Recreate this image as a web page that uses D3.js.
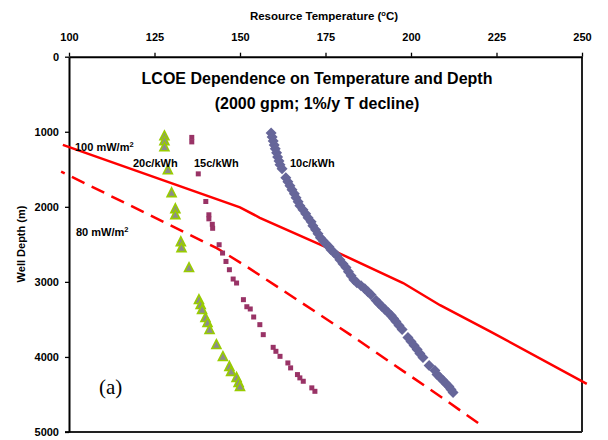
<!DOCTYPE html>
<html><head><meta charset="utf-8">
<script src="https://cdn.jsdelivr.net/npm/d3@7"></script>
<style>
html,body{margin:0;padding:0;background:#fff;}
svg text{font-family:"Liberation Sans",Arial,sans-serif;}
</style></head>
<body>
<svg id="c" width="608" height="440"></svg>
<script>
// ---- data ----
const tempTicks = [100,125,150,175,200,225,250];
const depthTicks = [0,1000,2000,3000,4000,5000];

// 10 c/kWh (diamonds): temperature (C), depth (m)
const c10Temp = [159.1,159.4,159.7,160.0,160.3,160.7,161.0,161.4,161.7,162.3,163.4,164.0,164.6,165.2,165.9,166.4,167.0,167.5,168.4,169.2,169.9,170.8,171.3,172.1,172.8,173.5,174.3,175.1,176.0,176.6,177.5,178.4,179.2,180.1,181.0,181.7,182.5,183.3,184.2,185.4,186.5,187.4,188.3,189.8,190.6,191.5,192.4,193.3,194.2,194.9,195.6,196.5,197.4,199.1,200.0,200.9,201.8,202.6,203.5,205.3,207.0,207.6,208.5,209.4,210.2,211.1,211.7,212.3];
const c10Depth = [1015,1069,1122,1175,1228,1281,1335,1388,1441,1494,1614,1667,1720,1773,1826,1880,1933,1986,2039,2092,2145,2199,2252,2305,2358,2411,2451,2491,2531,2571,2611,2651,2704,2757,2810,2864,2917,2970,3010,3050,3090,3130,3170,3249,3289,3329,3369,3409,3449,3489,3529,3582,3635,3742,3795,3848,3901,3954,4008,4114,4181,4234,4274,4314,4354,4394,4434,4474];

// 15 c/kWh (squares)
const c15Temp = [135.9,135.9,137.8,140.0,140.9,140.9,141.9,142.0,143.9,144.9,145.9,146.9,148.0,149.0,151.0,152.0,153.0,154.0,155.8,156.8,159.7,160.5,161.7,164.0,164.8,166.8,167.5,168.5,171.0,171.9];
const c15Depth = [1075,1135,1561,1929,2106,2160,2233,2286,2505,2616,2728,2838,2962,3015,3237,3331,3361,3468,3570,3703,3872,3925,3992,4080,4146,4235,4279,4324,4412,4458];

// 20 c/kWh (triangles)
const c20Temp = [127.9,127.9,127.9,128.9,130.0,131.1,131.1,132.7,132.9,135.1,138.0,138.5,138.9,139.9,140.5,141.1,143.1,145.0,146.9,147.4,149.0,149.6,150.0];
const c20Depth = [1055,1122,1202,1508,1814,2027,2107,2466,2546,2812,3238,3305,3371,3478,3544,3637,3837,3996,4129,4195,4275,4342,4395];

// 100 mW/m2 (solid) and 80 mW/m2 (dashed) temperature-depth curves
const hf100Temp = [98.2,150.0,155.8,174.3,197.7,208.5,223.1,251.4];
const hf100Depth = [1174,2007,2146,2519,3015,3311,3659,4359];
const hf80Temp = [97.7,143.2,151.9,182.2,209.9,220.2];
const hf80Depth = [1530,2550,2795,3703,4568,4900];

// ---- chart ----
const svg = d3.select("#c");
const x = d3.scaleLinear().domain([100,250]).range([69,582]);
const y = d3.scaleLinear().domain([0,5000]).range([56.7,432]);
const zip = (a,b) => a.map((v,i)=>[v,b[i]]);

const line = d3.line().x(d=>x(d[0])).y(d=>y(d[1]));

// frame (right & bottom)
svg.append("line").attr("x1",x(250)).attr("x2",x(250)).attr("y1",y(0)).attr("y2",y(5000))
  .attr("stroke","#222").attr("stroke-width",2);
svg.append("line").attr("x1",x(100)-4).attr("x2",x(250)).attr("y1",y(5000)).attr("y2",y(5000))
  .attr("stroke","#222").attr("stroke-width",2);

// axes
const gx = svg.append("g").attr("transform",`translate(0,${y(0)})`)
  .call(d3.axisTop(x).tickValues(tempTicks).tickFormat(d3.format("d")).tickSize(4).tickSizeOuter(0).tickPadding(12));
const gy = svg.append("g").attr("transform",`translate(${x(100)},0)`)
  .call(d3.axisLeft(y).tickValues(depthTicks).tickFormat(d3.format("d")).tickSize(4).tickSizeOuter(0).tickPadding(6));
[gx,gy].forEach(g=>{
  g.select(".domain").attr("stroke","#000").attr("stroke-width",2);
  g.selectAll(".tick line").attr("stroke","#000").attr("stroke-width",1.3);
  g.selectAll(".tick text").attr("fill","#000").style("font-size","11px").style("font-weight","bold")
   .style("font-family","'Liberation Sans',Arial,sans-serif");
});
gy.selectAll(".tick text").attr("dy","0.35em");

// curves
svg.append("path").datum(zip(hf100Temp,hf100Depth)).attr("d",line)
  .attr("fill","none").attr("stroke","#ff0000").attr("stroke-width",2.5);
svg.append("path").datum(zip(hf80Temp,hf80Depth)).attr("d",line)
  .attr("fill","none").attr("stroke","#ff0000").attr("stroke-width",2.5)
  .attr("stroke-dasharray","14,8").attr("stroke-dashoffset",10);

// diamonds
svg.append("g").selectAll("path").data(zip(c10Temp,c10Depth)).join("path")
  .attr("transform",d=>`translate(${x(d[0])},${y(d[1])})`)
  .attr("d","M0,-5.5L5.5,0L0,5.5L-5.5,0Z").attr("fill","#666699");
// squares
svg.append("g").selectAll("rect").data(zip(c15Temp,c15Depth)).join("rect")
  .attr("x",d=>x(d[0])-2.5).attr("y",d=>y(d[1])-2.5).attr("width",5).attr("height",5)
  .attr("fill","#993366");
// triangles
svg.append("g").selectAll("path").data(zip(c20Temp,c20Depth)).join("path")
  .attr("transform",d=>`translate(${x(d[0])},${y(d[1])})`)
  .attr("d","M0,-5L4.5,3.8L-4.5,3.8Z").attr("fill","#8c8c8c")
  .attr("stroke","#99cc00").attr("stroke-width",1.6).attr("stroke-linejoin","miter");

// texts
const txt = (s,xx,yy,opts={}) => svg.append("text").attr("x",xx).attr("y",yy)
  .attr("text-anchor",opts.anchor||"start")
  .style("font-size",(opts.size||11)+"px").style("font-weight",opts.weight||"bold")
  .style("font-family",opts.family||"'Liberation Sans',Arial,sans-serif")
  .attr("fill","#000").text(s);

txt("LCOE Dependence on Temperature and Depth",317,84,{anchor:"middle",size:16});
txt("(2000 gpm; 1%/y T decline)",317,108.5,{anchor:"middle",size:16});

const t1 = txt("Resource Temperature (",324,19.5,{anchor:"middle",size:11.5});
t1.append("tspan").attr("baseline-shift","super").style("font-size","7.5px").text("o");
t1.append("tspan").text("C)");

svg.append("text").attr("transform","translate(25,244) rotate(-90)").attr("text-anchor","middle")
  .style("font-size","11px").style("font-weight","bold")
  .style("font-family","'Liberation Sans',Arial,sans-serif").text("Well Depth (m)");

const l100 = txt("100 mW/m",75,151);
l100.append("tspan").attr("baseline-shift","super").style("font-size","7.5px").text("2");
const l80 = txt("80 mW/m",76,236);
l80.append("tspan").attr("baseline-shift","super").style("font-size","7.5px").text("2");

txt("20c/kWh",133,167);
txt("15c/kWh",194,167);
txt("10c/kWh",290,167);

txt("(a)",99,394,{size:21,weight:"normal",family:"'Liberation Serif','Times New Roman',serif"});
</script>
</body></html>
